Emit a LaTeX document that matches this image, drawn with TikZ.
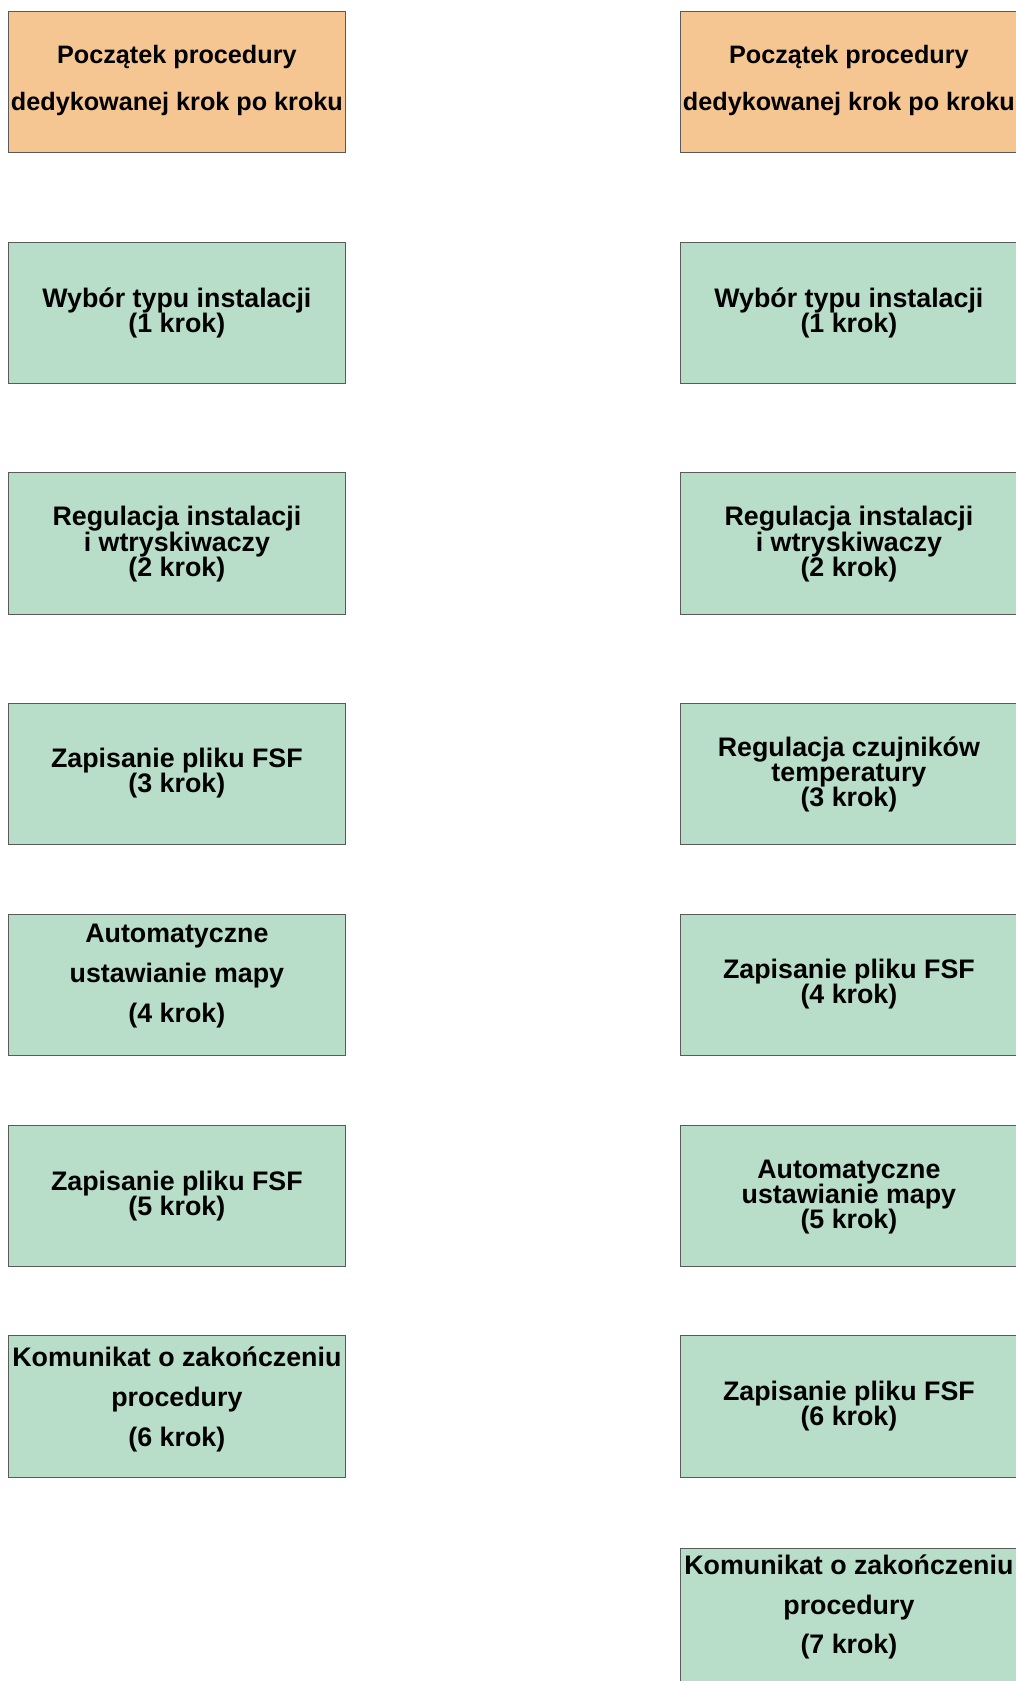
\documentclass[tikz,border=0pt]{standalone}
\usepackage{fontspec}
\setmainfont{Liberation Sans}
\definecolor{startfill}{HTML}{F5C592}
\definecolor{stepfill}{HTML}{B8DEC9}
\definecolor{boxline}{HTML}{5A5A5A}
\tikzset{
  boxbase/.style={draw=boxline, line width=1pt, rectangle, inner sep=0pt,
    minimum width=336.3pt, minimum height=141.6pt},
  startbox/.style={boxbase, fill=startfill},
  stepbox/.style={boxbase, fill=stepfill},
  steptext/.style={align=center, inner sep=0pt,
    font=\bfseries\fontsize{26.8}{25}\selectfont},
  widetext/.style={align=center, inner sep=0pt,
    font=\bfseries\fontsize{26.8}{40}\selectfont},
  starttext/.style={align=center, inner sep=0pt,
    font=\bfseries\fontsize{25.2}{47}\selectfont},
}
\begin{document}
\begin{tikzpicture}[x=1pt,y=-1pt]
\useasboundingbox (0,0) rectangle (1016,1681);

% ---------- left procedure (6 steps) ----------
\node[startbox] (L1) at (176.9,82.1) {};
\node[starttext] (L1t) at ([yshift=2pt]L1.center) {Początek procedury\\dedykowanej krok po kroku};

\node[stepbox] (L2) at (176.9,313.0) {};
\node[steptext] (L2t) at ([yshift=0.5pt]L2.center) {Wybór typu instalacji\\(1 krok)};

\node[stepbox] (L3) at (176.9,543.4) {};
\node[steptext] (L3t) at ([yshift=-1pt]L3.center) {Regulacja instalacji\\i wtryskiwaczy\\(2 krok)};

\node[stepbox] (L4) at (176.9,773.8) {};
\node[steptext] (L4t) at ([yshift=0.5pt]L4.center) {Zapisanie pliku FSF\\(3 krok)};

\node[stepbox] (L5) at (176.9,985.0) {};
\node[widetext] (L5t) at ([yshift=9pt]L5.center) {Automatyczne\\ustawianie mapy\\(4 krok)};

\node[stepbox] (L6) at (176.9,1196.1) {};
\node[steptext] (L6t) at ([yshift=0.5pt]L6.center) {Zapisanie pliku FSF\\(5 krok)};

\node[stepbox] (L7) at (176.9,1406.5) {};
\node[widetext] (L7t) at ([yshift=7pt]L7.center) {Komunikat o zakończeniu\\procedury\\(6 krok)};

% ---------- right procedure (7 steps) ----------
\node[startbox] (R1) at (848.9,82.1) {};
\node[starttext] (R1t) at ([yshift=2pt]R1.center) {Początek procedury\\dedykowanej krok po kroku};

\node[stepbox] (R2) at (848.9,313.0) {};
\node[steptext] (R2t) at ([yshift=0.5pt]R2.center) {Wybór typu instalacji\\(1 krok)};

\node[stepbox] (R3) at (848.9,543.4) {};
\node[steptext] (R3t) at ([yshift=-1pt]R3.center) {Regulacja instalacji\\i wtryskiwaczy\\(2 krok)};

\node[stepbox] (R4) at (848.9,773.8) {};
\node[steptext] (R4t) at ([yshift=-1pt]R4.center) {Regulacja czujników\\temperatury\\(3 krok)};

\node[stepbox] (R5) at (848.9,985.0) {};
\node[steptext] (R5t) at ([yshift=0.5pt]R5.center) {Zapisanie pliku FSF\\(4 krok)};

\node[stepbox] (R6) at (848.9,1196.1) {};
\node[steptext] (R6t) at ([yshift=-1pt]R6.center) {Automatyczne\\ustawianie mapy\\(5 krok)};

\node[stepbox] (R7) at (848.9,1406.5) {};
\node[steptext] (R7t) at ([yshift=0.5pt]R7.center) {Zapisanie pliku FSF\\(6 krok)};

\node[stepbox] (R8) at (848.9,1618.8) {};
\node[widetext, font=\bfseries\fontsize{26.8}{39.5}\selectfont] (R8t) at ([yshift=11.5pt]R8.center) {Komunikat o zakończeniu\\procedury\\(7 krok)};
\end{tikzpicture}
\end{document}
